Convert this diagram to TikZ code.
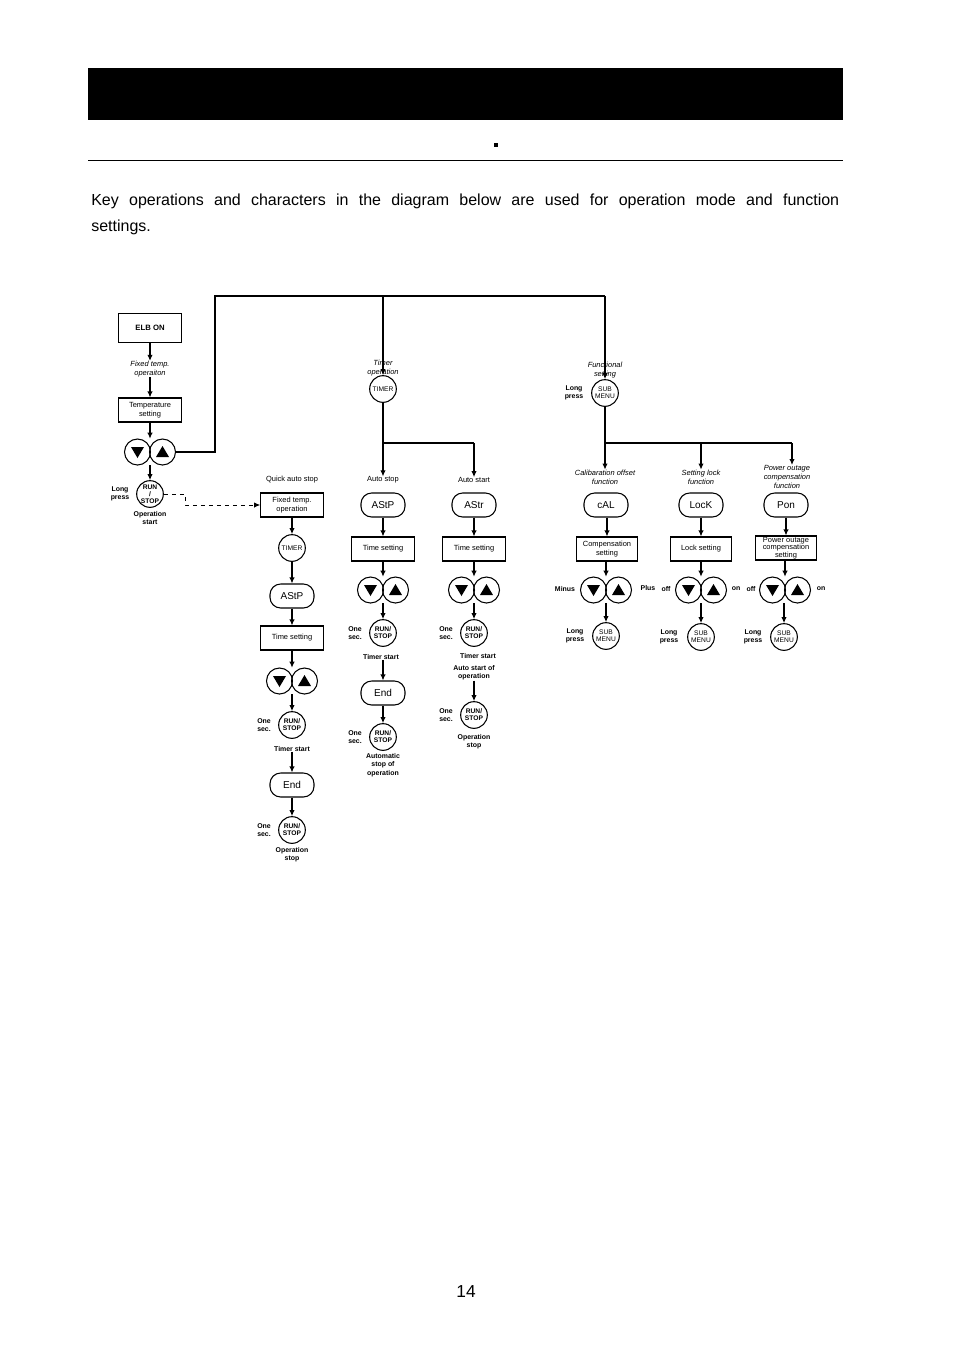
\documentclass[tikz,border=0pt]{standalone}
\usepackage{fontspec}
\setmainfont{Liberation Sans}
\usepackage{tikz}
\usetikzlibrary{arrows.meta,calc}

\tikzset{
  lab/.style={font=\fontsize{5.6}{6.4}\selectfont,align=center,inner sep=0pt},
  blab/.style={lab,font=\fontsize{5.2}{6.2}\selectfont\bfseries},
  ilab/.style={lab,font=\fontsize{5.6}{6.6}\selectfont\itshape},
  box/.style={draw,thick,minimum width=47pt,minimum height=18pt,align=center,inner sep=1pt,font=\fontsize{5.6}{6.4}\selectfont},
  disp/.style={draw,thick,rounded corners=8pt,minimum width=33pt,minimum height=18pt,font=\fontsize{7.5}{8}\selectfont},
  btn/.style={draw,thick,circle,minimum size=20pt,inner sep=0pt,align=center,font=\fontsize{5}{5.4}\selectfont},
  bbtn/.style={btn,font=\fontsize{5}{5.4}\selectfont\bfseries},
  flow/.style={thick,-{Latex[length=4.5pt,width=4pt]}},
}
% pair of up/down keys around a centre point
\newcommand\updown[3]{%
  \node[minimum width=37.5pt,minimum height=19.5pt,inner sep=0pt] (#1) at (#2,#3) {};
  \node[draw,thick,circle,minimum size=19.5pt,inner sep=0pt] (#1l) at ($(#1)+(-12.5,0)$) {};
  \node[draw,thick,circle,minimum size=19.5pt,inner sep=0pt] (#1r) at ($(#1)+(12.5,0)$) {};
  \fill ($(#1l)+(-6.5,-5)$) -- ($(#1l)+(6.5,-5)$) -- ($(#1l)+(0,6)$) -- cycle;
  \fill ($(#1r)+(-6.5,5)$) -- ($(#1r)+(6.5,5)$) -- ($(#1r)+(0,-6)$) -- cycle;
}

\begin{document}
\begin{tikzpicture}[x=0.75pt,y=-0.75pt]
\useasboundingbox (0,0) rectangle (954,1350);

% page head
\fill (88,68) rectangle (843,120);
\draw[thin] (88,160) -- (843,160);
\fill (494,143) rectangle (498,147);
\node[anchor=north west,text width=561pt,align=justify,inner sep=0pt,
  font=\fontsize{12}{19.5}\selectfont] (intro) at (91,194)
  {Key operations and characters in the diagram below are used for operation mode and function\linebreak settings.};
\node[font=\fontsize{13}{14}\selectfont] (page) at (466,1292) {14};

% left column
\node[box,minimum height=22pt,font=\fontsize{5.8}{6.4}\selectfont\bfseries] (elb) at (150,328) {ELB ON};
\node[ilab] (fixt) at (150,369) {Fixed temp.\\operaiton};
\node[box] (temp) at (150,410) {Temperature\\setting};
\updown{k0}{150}{452}
\node[bbtn] (rs0) at (150,494) {RUN\\/\\STOP};
\node[blab] (lp0) at (120,494) {Long\\press};
\node[blab] (os0) at (150,518) {Operation\\start};
\draw[flow] (elb) -- (fixt);
\draw[flow] (fixt) -- (temp);
\draw[flow] (temp) -- (k0);
\draw[flow] (k0) -- (rs0);

% quick auto stop
\node[lab] (qas) at (292,480) {Quick auto stop};
\node[box] (fix) at (292,505) {Fixed temp.\\operation};
\node[btn] (tm1) at (292,548) {TIMER};
\node[disp] (astp1) at (292,596) {AStP};
\node[box] (ts1) at (292,638) {Time setting};
\updown{k1}{292}{681}
\node[bbtn] (rs1) at (292,725) {RUN/\\STOP};
\node[blab] (on1) at (264,725) {One\\sec.};
\node[blab] (tst1) at (292,749) {Timer start};
\node[disp] (end1) at (292,785) {End};
\node[bbtn] (rs1b) at (292,830) {RUN/\\STOP};
\node[blab] (on1b) at (264,830) {One\\sec.};
\node[blab] (ost1) at (292,855) {Operation\\stop};
\draw[semithick,dashed,-{Latex[length=4.5pt,width=4pt]}] (rs0.east) -- (185,494) -- (185,505) -- (fix.west);
\draw[flow] (fix) -- (tm1);
\draw[flow] (tm1) -- (astp1);
\draw[flow] (astp1) -- (ts1);
\draw[flow] (ts1) -- (k1);
\draw[flow] (k1) -- (rs1);
\draw[flow] (tst1) -- (end1);
\draw[flow] (end1) -- (rs1b);

% timer operation
\draw[thick] (k0r.east) -- (215,452) -- (215,296) -- (605,296);
\node[ilab] (tmo) at (383,368) {Timer\\operation};
\node[btn] (tm2) at (383,389) {TIMER};
\draw[flow] (383,296) -- (tm2);
\coordinate (br2) at (383,443);
\draw[thick] (tm2) -- (br2) -- (474,443);
\node[lab] (as) at (383,480) {Auto stop};
\node[lab] (ar) at (474,480) {Auto start};
\draw[flow] (br2) -- (as);
\draw[flow] (474,443) -- (ar);
\node[disp] (astp2) at (383,505) {AStP};
\node[disp] (astr) at (474,505) {AStr};
\node[box] (ts2) at (383,549) {Time setting};
\node[box] (ts3) at (474,549) {Time setting};
\updown{k2}{383}{590}
\updown{k3}{474}{590}
\node[bbtn] (rs2) at (383,633) {RUN/\\STOP};
\node[bbtn] (rs3) at (474,633) {RUN/\\STOP};
\node[blab] (on2) at (355,633) {One\\sec.};
\node[blab] (on3) at (446,633) {One\\sec.};
\node[blab] (tst2) at (381,657) {Timer start};
\node[blab] (tst3) at (478,656) {Timer start};
\node[disp] (end2) at (383,693) {End};
\node[bbtn] (rs2b) at (383,737) {RUN/\\STOP};
\node[blab] (on2b) at (355,737) {One\\sec.};
\node[blab] (aso) at (383,765) {Automatic\\stop of\\operation};
\node[blab] (aro) at (474,673) {Auto start of\\operation};
\node[bbtn] (rs3b) at (474,715) {RUN/\\STOP};
\node[blab] (on3b) at (446,715) {One\\sec.};
\node[blab] (ost3) at (474,742) {Operation\\stop};
\draw[flow] (astp2) -- (ts2);
\draw[flow] (astr) -- (ts3);
\draw[flow] (ts2) -- (k2);
\draw[flow] (ts3) -- (k3);
\draw[flow] (k2) -- (rs2);
\draw[flow] (k3) -- (rs3);
\draw[flow] (tst2.south -| end2) -- (end2);
\draw[flow] (end2) -- (rs2b);
\draw[flow] (aro) -- (rs3b);

% functional setting
\node[ilab] (fns) at (605,370) {Functional\\setting};
\node[btn] (sub0) at (605,393) {SUB\\MENU};
\node[blab] (lps) at (574,393) {Long\\press};
\draw[flow] (605,296) -- (sub0);
\coordinate (br3) at (605,443);
\draw[thick] (sub0) -- (br3) -- (792,443);
\node[ilab] (cal) at (605,477) {Calibaration offset\\function};
\node[ilab] (slk) at (701,477) {Setting lock\\function};
\node[ilab] (poc) at (787,477) {Power outage\\compensation\\function};
\draw[flow] (br3) -- (cal);
\draw[flow] (701,443) -- (slk);
\draw[flow] (792,443) -- (792,465);
\node[disp] (cald) at (606,505) {cAL};
\node[disp] (lckd) at (701,505) {LocK};
\node[disp] (pond) at (786,505) {Pon};
\node[box,minimum width=46pt] (cmp) at (607,549) {Compensation\\setting};
\node[box,minimum width=46pt] (lks) at (701,549) {Lock setting};
\node[box,minimum width=46pt,inner sep=0pt,font=\fontsize{5.6}{5.6}\selectfont] (pos) at (786,548) {Power outage\\compensation\\setting};
\updown{k4}{606}{590}
\updown{k5}{701}{590}
\updown{k6}{785}{590}
\node[blab] (mn) at (565,589) {Minus};
\node[blab] (pl) at (648,588) {Plus};
\node[blab] (of5) at (666,589) {off};
\node[blab] (on5) at (736,589) {on};
\node[blab] (of6) at (751,589) {off};
\node[blab] (on6) at (821,589) {on};
\node[btn] (sub4) at (606,636) {SUB\\MENU};
\node[btn] (sub5) at (701,637) {SUB\\MENU};
\node[btn] (sub6) at (784,637) {SUB\\MENU};
\node[blab] (lp4) at (575,636) {Long\\press};
\node[blab] (lp5) at (669,637) {Long\\press};
\node[blab] (lp6) at (753,637) {Long\\press};
\draw[flow] (cald.south -| cmp) -- (cmp);
\draw[flow] (lckd) -- (lks);
\draw[flow] (pond.south -| pos) -- (pos);
\draw[flow] (cmp.south -| k4) -- (k4);
\draw[flow] (lks) -- (k5);
\draw[flow] (pos.south -| k6) -- (k6);
\draw[flow] (k4) -- (sub4);
\draw[flow] (k5) -- (sub5);
\draw[flow] (k6.south -| sub6) -- (sub6);
\end{tikzpicture}
\end{document}
